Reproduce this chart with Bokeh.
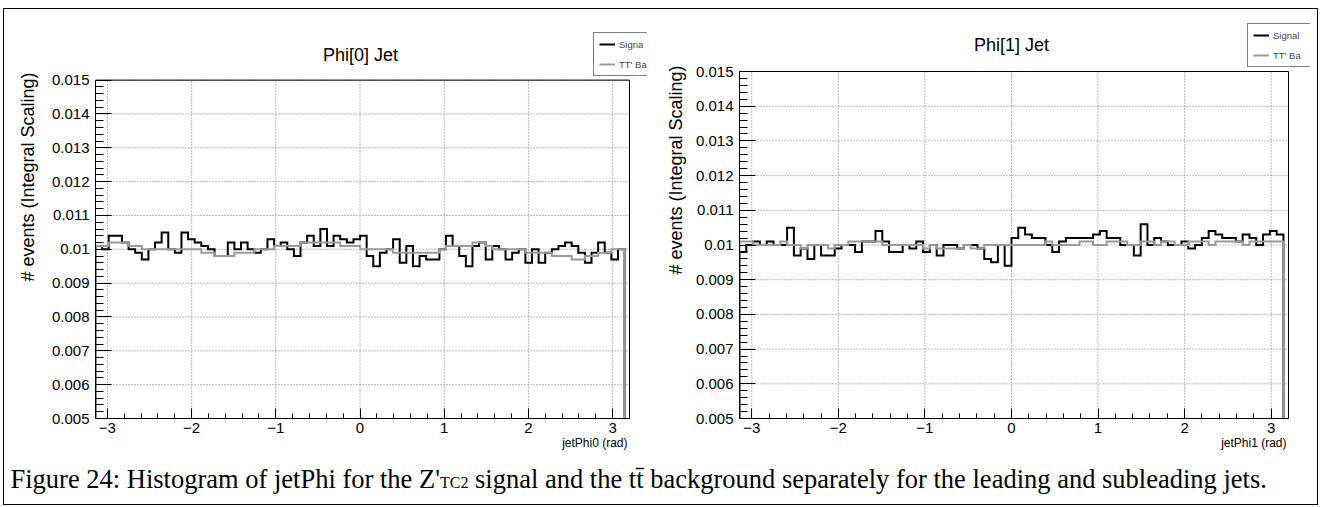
import numpy as np
from bokeh.plotting import figure
from bokeh.models import Range1d, FixedTicker, Label, Legend, LegendItem, Title
from bokeh.layouts import row, column
from bokeh.embed import file_html
from bokeh.resources import INLINE

# ---------------- data ----------------
X_LO, X_HI = -np.pi, np.pi          # histogram range (80 bins)
X_AXIS = (-np.pi, 3.2)              # drawn axis range
Y_AXIS = (0.005, 0.015)

x_tick_values = [-3, -2, -1, 0, 1, 2, 3]
x_tick_labels = ["\u22123", "\u22122", "\u22121", "0", "1", "2", "3"]
y_tick_labels = ["0.005", "0.006", "0.007", "0.008", "0.009", "0.01",
                 "0.011", "0.012", "0.013", "0.014", "0.015"]

titles = ["Phi[0] Jet", "Phi[1] Jet"]
x_titles = ["jetPhi0 (rad)", "jetPhi1 (rad)"]
y_title = "# events (Integral Scaling)"
# legend texts as far as they are visible in the (cropped) legend boxes
legend_labels_left = ["Signa", "TT' Ba"]
legend_labels_right = ["Signal", "TT' Ba"]

signal_phi0 = [
    0.0101, 0.0100, 0.0104, 0.0104, 0.0102, 0.0100, 0.0099, 0.0097, 0.0100, 0.0102,
    0.0105, 0.0100, 0.0099, 0.0105, 0.0103, 0.0102, 0.0101, 0.0100, 0.0098, 0.0098,
    0.0102, 0.0100, 0.0102, 0.0100, 0.0099, 0.0100, 0.0103, 0.0101, 0.0102, 0.0100,
    0.0098, 0.0102, 0.0104, 0.0101, 0.0106, 0.0101, 0.0104, 0.0103, 0.0102, 0.0103,
    0.0104, 0.0098, 0.0095, 0.0099, 0.0100, 0.0103, 0.0096, 0.0101, 0.0095, 0.0098,
    0.0097, 0.0097, 0.0100, 0.0104, 0.0101, 0.0098, 0.0095, 0.0101, 0.0102, 0.0097,
    0.0101, 0.0100, 0.0097, 0.0099, 0.0100, 0.0096, 0.0100, 0.0096, 0.0099, 0.0100,
    0.0101, 0.0102, 0.0101, 0.0099, 0.0096, 0.0099, 0.0102, 0.0099, 0.0097, 0.0100,
]
background_phi0 = [
    0.0101, 0.0101, 0.0102, 0.0102, 0.0102, 0.0101, 0.0101, 0.0100, 0.0100, 0.0100,
    0.0100, 0.0100, 0.0100, 0.0100, 0.0100, 0.0100, 0.0099, 0.0099, 0.0098, 0.0098,
    0.0098, 0.0099, 0.0099, 0.0099, 0.0100, 0.0100, 0.0100, 0.0101, 0.0101, 0.0101,
    0.0101, 0.0102, 0.0102, 0.0102, 0.0102, 0.0102, 0.0102, 0.0101, 0.0101, 0.0101,
    0.0100, 0.0100, 0.0100, 0.0100, 0.0100, 0.0099, 0.0099, 0.0099, 0.0099, 0.0099,
    0.0099, 0.0099, 0.0100, 0.0101, 0.0101, 0.0101, 0.0101, 0.0102, 0.0102, 0.0101,
    0.0100, 0.0100, 0.0100, 0.0100, 0.0100, 0.0099, 0.0099, 0.0099, 0.0099, 0.0098,
    0.0098, 0.0098, 0.0097, 0.0097, 0.0098, 0.0098, 0.0099, 0.0099, 0.0100, 0.0100,
]
signal_phi1 = [
    0.0098, 0.0100, 0.0101, 0.0100, 0.0101, 0.0100, 0.0100, 0.0105, 0.0097, 0.0099,
    0.0096, 0.0100, 0.0097, 0.0097, 0.0099, 0.0100, 0.0100, 0.0098, 0.0101, 0.0101,
    0.0104, 0.0101, 0.0098, 0.0098, 0.0100, 0.0099, 0.0101, 0.0098, 0.0100, 0.0097,
    0.0100, 0.0100, 0.0099, 0.0100, 0.0100, 0.0099, 0.0096, 0.0095, 0.0100, 0.0094,
    0.0102, 0.0105, 0.0103, 0.0102, 0.0102, 0.0100, 0.0098, 0.0101, 0.0102, 0.0102,
    0.0102, 0.0102, 0.0103, 0.0104, 0.0102, 0.0102, 0.0100, 0.0100, 0.0097, 0.0106,
    0.0100, 0.0102, 0.0101, 0.0100, 0.0100, 0.0101, 0.0099, 0.0100, 0.0102, 0.0104,
    0.0103, 0.0102, 0.0102, 0.0101, 0.0103, 0.0102, 0.0100, 0.0103, 0.0104, 0.0103,
]
background_phi1 = [
    0.0101, 0.0101, 0.0100, 0.0100, 0.0100, 0.0100, 0.0101, 0.0100, 0.0100, 0.0099,
    0.0100, 0.0100, 0.0100, 0.0099, 0.0100, 0.0100, 0.0101, 0.0101, 0.0101, 0.0101,
    0.0101, 0.0100, 0.0100, 0.0100, 0.0100, 0.0100, 0.0100, 0.0099, 0.0100, 0.0099,
    0.0099, 0.0099, 0.0099, 0.0100, 0.0099, 0.0099, 0.0100, 0.0100, 0.0100, 0.0100,
    0.0100, 0.0100, 0.0100, 0.0100, 0.0100, 0.0101, 0.0100, 0.0100, 0.0100, 0.0100,
    0.0101, 0.0101, 0.0100, 0.0100, 0.0101, 0.0101, 0.0101, 0.0100, 0.0100, 0.0101,
    0.0101, 0.0100, 0.0101, 0.0101, 0.0100, 0.0100, 0.0101, 0.0101, 0.0101, 0.0100,
    0.0101, 0.0101, 0.0101, 0.0101, 0.0100, 0.0101, 0.0101, 0.0101, 0.0101, 0.0101,
]

caption_part1 = "Figure 24: Histogram of jetPhi for the Z'"
caption_sub = "TC2"
caption_part3 = "signal and the tt\u0304 background separately for the leading and subleading jets."

# ---------------- helpers ----------------
SANS = "Liberation Sans"
SERIF = "Liberation Serif"

TIMES_W = {' ': 250, 'F': 556, 'i': 278, 'g': 500, 'u': 500, 'r': 333, 'e': 444,
           '2': 500, '4': 500, ':': 278, 'H': 722, 's': 389, 't': 278, 'o': 500,
           'a': 444, 'm': 778, 'f': 333, 'j': 278, 'P': 556, 'h': 500, 'Z': 611,
           "'": 180, 'T': 611, 'C': 667, 'n': 500, 'l': 278, 'd': 500, 'b': 500,
           'c': 444, 'k': 500, 'p': 500, 'y': 500, '.': 250}


def serif_width(s, size):
    return sum(TIMES_W.get(ch, 0) for ch in s) / 1000.0 * size


def steps(vals):
    edges = np.linspace(X_LO, X_HI, len(vals) + 1)
    xs = np.repeat(edges, 2)
    ys = np.concatenate([[0.0], np.repeat(np.asarray(vals), 2), [0.0]])
    return xs, ys


y_tick_values = [float(s) for s in y_tick_labels]
x_minor = [round(v, 3) for v in np.arange(-3.2, 3.21, 0.2)]
y_minor = [round(v, 6) for v in np.arange(0.005, 0.015001, 0.0002)]


def make_panel(sig, bg, title, xtitle, leg_labels, W, H, frame_left, frame_bottom,
               root_w, root_h, leg_xy, title_xy, ytitle_offset, ytitle_standoff,
               xtitle_offset):
    # bokeh frame spans from frame_left to the canvas right and from canvas top
    # to frame_bottom; the ROOT-like frame occupies root_w x root_h of it.
    fw = W - frame_left
    fh = H - frame_bottom
    ppx = root_w / (X_AXIS[1] - X_AXIS[0])
    ppy = root_h / (Y_AXIS[1] - Y_AXIS[0])
    xr = Range1d(X_AXIS[0], X_AXIS[0] + fw / ppx)
    yr = Range1d(Y_AXIS[0], Y_AXIS[0] + fh / ppy)

    p = figure(width=W, height=H, title=None, x_range=xr, y_range=yr,
               output_backend="svg", toolbar_location=None, tools="",
               min_border_left=frame_left, min_border_right=0,
               min_border_top=0, min_border_bottom=frame_bottom)
    p.background_fill_color = "white"
    p.border_fill_color = "white"
    p.outline_line_color = None
    p.xgrid.visible = False
    p.ygrid.visible = False

    p.xaxis.ticker = FixedTicker(ticks=x_tick_values, minor_ticks=x_minor)
    p.yaxis.ticker = FixedTicker(ticks=y_tick_values, minor_ticks=y_minor)
    p.xaxis.major_label_overrides = {float(v): s for v, s in zip(x_tick_values, x_tick_labels)}
    p.yaxis.major_label_overrides = {v: s for v, s in zip(y_tick_values, y_tick_labels)}
    p.xaxis.bounds = X_AXIS
    p.yaxis.bounds = Y_AXIS
    for ax in (p.xaxis[0], p.yaxis[0]):
        ax.axis_line_color = "black"
        ax.axis_line_width = 1
        ax.major_tick_out = 0
        ax.minor_tick_out = 0
        ax.major_tick_line_color = "black"
        ax.minor_tick_line_color = "black"
        ax.major_label_text_font = SANS
        ax.major_label_text_font_size = "15px"
        ax.major_label_text_color = "black"
    p.xaxis.major_tick_in = 10
    p.xaxis.minor_tick_in = 5
    p.xaxis.major_label_standoff = 4
    p.yaxis.major_tick_in = 16
    p.yaxis.minor_tick_in = 8
    p.yaxis.major_label_standoff = 6

    # dotted grid inside the ROOT frame
    p.segment(x0=x_tick_values, y0=[Y_AXIS[0]] * len(x_tick_values),
              x1=x_tick_values, y1=[Y_AXIS[1]] * len(x_tick_values),
              line_color="#777777", line_width=1, line_dash="1 2")
    p.segment(x0=[X_AXIS[0]] * len(y_tick_values), y0=y_tick_values,
              x1=[X_AXIS[1]] * len(y_tick_values), y1=y_tick_values,
              line_color="#777777", line_width=1, line_dash="1 2")

    xs, ys = steps(sig)
    r_sig = p.line(xs, ys, line_color="black", line_width=2, line_join="miter")
    xb, yb = steps(bg)
    r_bg = p.line(xb, yb, line_color="#9a9a9a", line_width=2, line_join="miter")

    # top and right edges of the frame
    p.line(x=[X_AXIS[0], X_AXIS[1], X_AXIS[1]], y=[Y_AXIS[1], Y_AXIS[1], Y_AXIS[0]],
           line_color="black", line_width=1)

    leg = Legend(items=[LegendItem(label=leg_labels[0], renderers=[r_sig]),
                        LegendItem(label=leg_labels[1], renderers=[r_bg])],
                 location=leg_xy, orientation="vertical",
                 border_line_color="black", border_line_width=1,
                 background_fill_color="white", background_fill_alpha=1.0,
                 label_text_font=SANS, label_text_font_size="9.5px",
                 glyph_width=16, glyph_height=12, label_height=12, label_width=75,
                 spacing=8, padding=5, margin=0, label_standoff=4)
    p.add_layout(leg)

    p.add_layout(Label(x=title_xy[0], y=title_xy[1], x_units="screen", y_units="screen",
                       text=title, text_align="center", text_baseline="alphabetic",
                       text_font=SANS, text_font_size="18px", text_color="black"))

    p.add_layout(Title(text=y_title, align="right", offset=ytitle_offset,
                       vertical_align="bottom", standoff=ytitle_standoff,
                       text_font=SANS, text_font_size="18px",
                       text_font_style="normal", text_color="black"), "left")
    p.add_layout(Title(text=xtitle, align="right", offset=xtitle_offset,
                       vertical_align="top", standoff=0,
                       text_font=SANS, text_font_size="12px",
                       text_font_style="normal", text_color="black"), "below")
    return p


# geometry (px) -- content origin (4, 9) inside the outer border
pA = make_panel(signal_phi0, background_phi0, titles[0], x_titles[0], legend_labels_left,
                W=643, H=454, frame_left=91, frame_bottom=43,
                root_w=534, root_h=340,
                leg_xy=(498, 342), title_xy=(265, 364),
                ytitle_offset=63, ytitle_standoff=22, xtitle_offset=20)
pB = make_panel(signal_phi1, background_phi1, titles[1], x_titles[1], legend_labels_right,
                W=663, H=454, frame_left=92, frame_bottom=45,
                root_w=549, root_h=347,
                leg_xy=(508, 351), title_xy=(272, 374),
                ytitle_offset=56, ytitle_standoff=14, xtitle_offset=24)

# caption strip
CAP_W, CAP_H = 1313, 41
pC = figure(width=CAP_W, height=CAP_H, title=None, x_range=Range1d(0, CAP_W),
            y_range=Range1d(0, CAP_H), output_backend="svg", toolbar_location=None,
            tools="", x_axis_type=None, y_axis_type=None,
            min_border=0, min_border_left=0, min_border_right=0,
            min_border_top=0, min_border_bottom=0)
pC.outline_line_color = None
pC.grid.visible = False
pC.background_fill_color = "white"
pC.border_fill_color = "white"

F = 26.5
S = 16
x0 = 6
base = 26
pC.add_layout(Label(x=x0, y=base, x_units="screen", y_units="screen", text=caption_part1,
                    text_font=SERIF, text_font_size=f"{F}px", text_baseline="alphabetic",
                    text_color="black"))
x1 = x0 + serif_width(caption_part1, F)
pC.add_layout(Label(x=x1, y=base - 4, x_units="screen", y_units="screen", text=caption_sub,
                    text_font=SERIF, text_font_size=f"{S}px", text_baseline="alphabetic",
                    text_color="black"))
x2 = x1 + serif_width(caption_sub, S) + serif_width(" ", F)
pC.add_layout(Label(x=x2, y=base, x_units="screen", y_units="screen", text=caption_part3,
                    text_font=SERIF, text_font_size=f"{F}px", text_baseline="alphabetic",
                    text_color="black"))

layout = column(row(pA, pB), pC, margin=(8, 0, 0, 3),
                styles={"border": "1px solid black"})

open("out.html", "w").write(file_html(layout, INLINE))
